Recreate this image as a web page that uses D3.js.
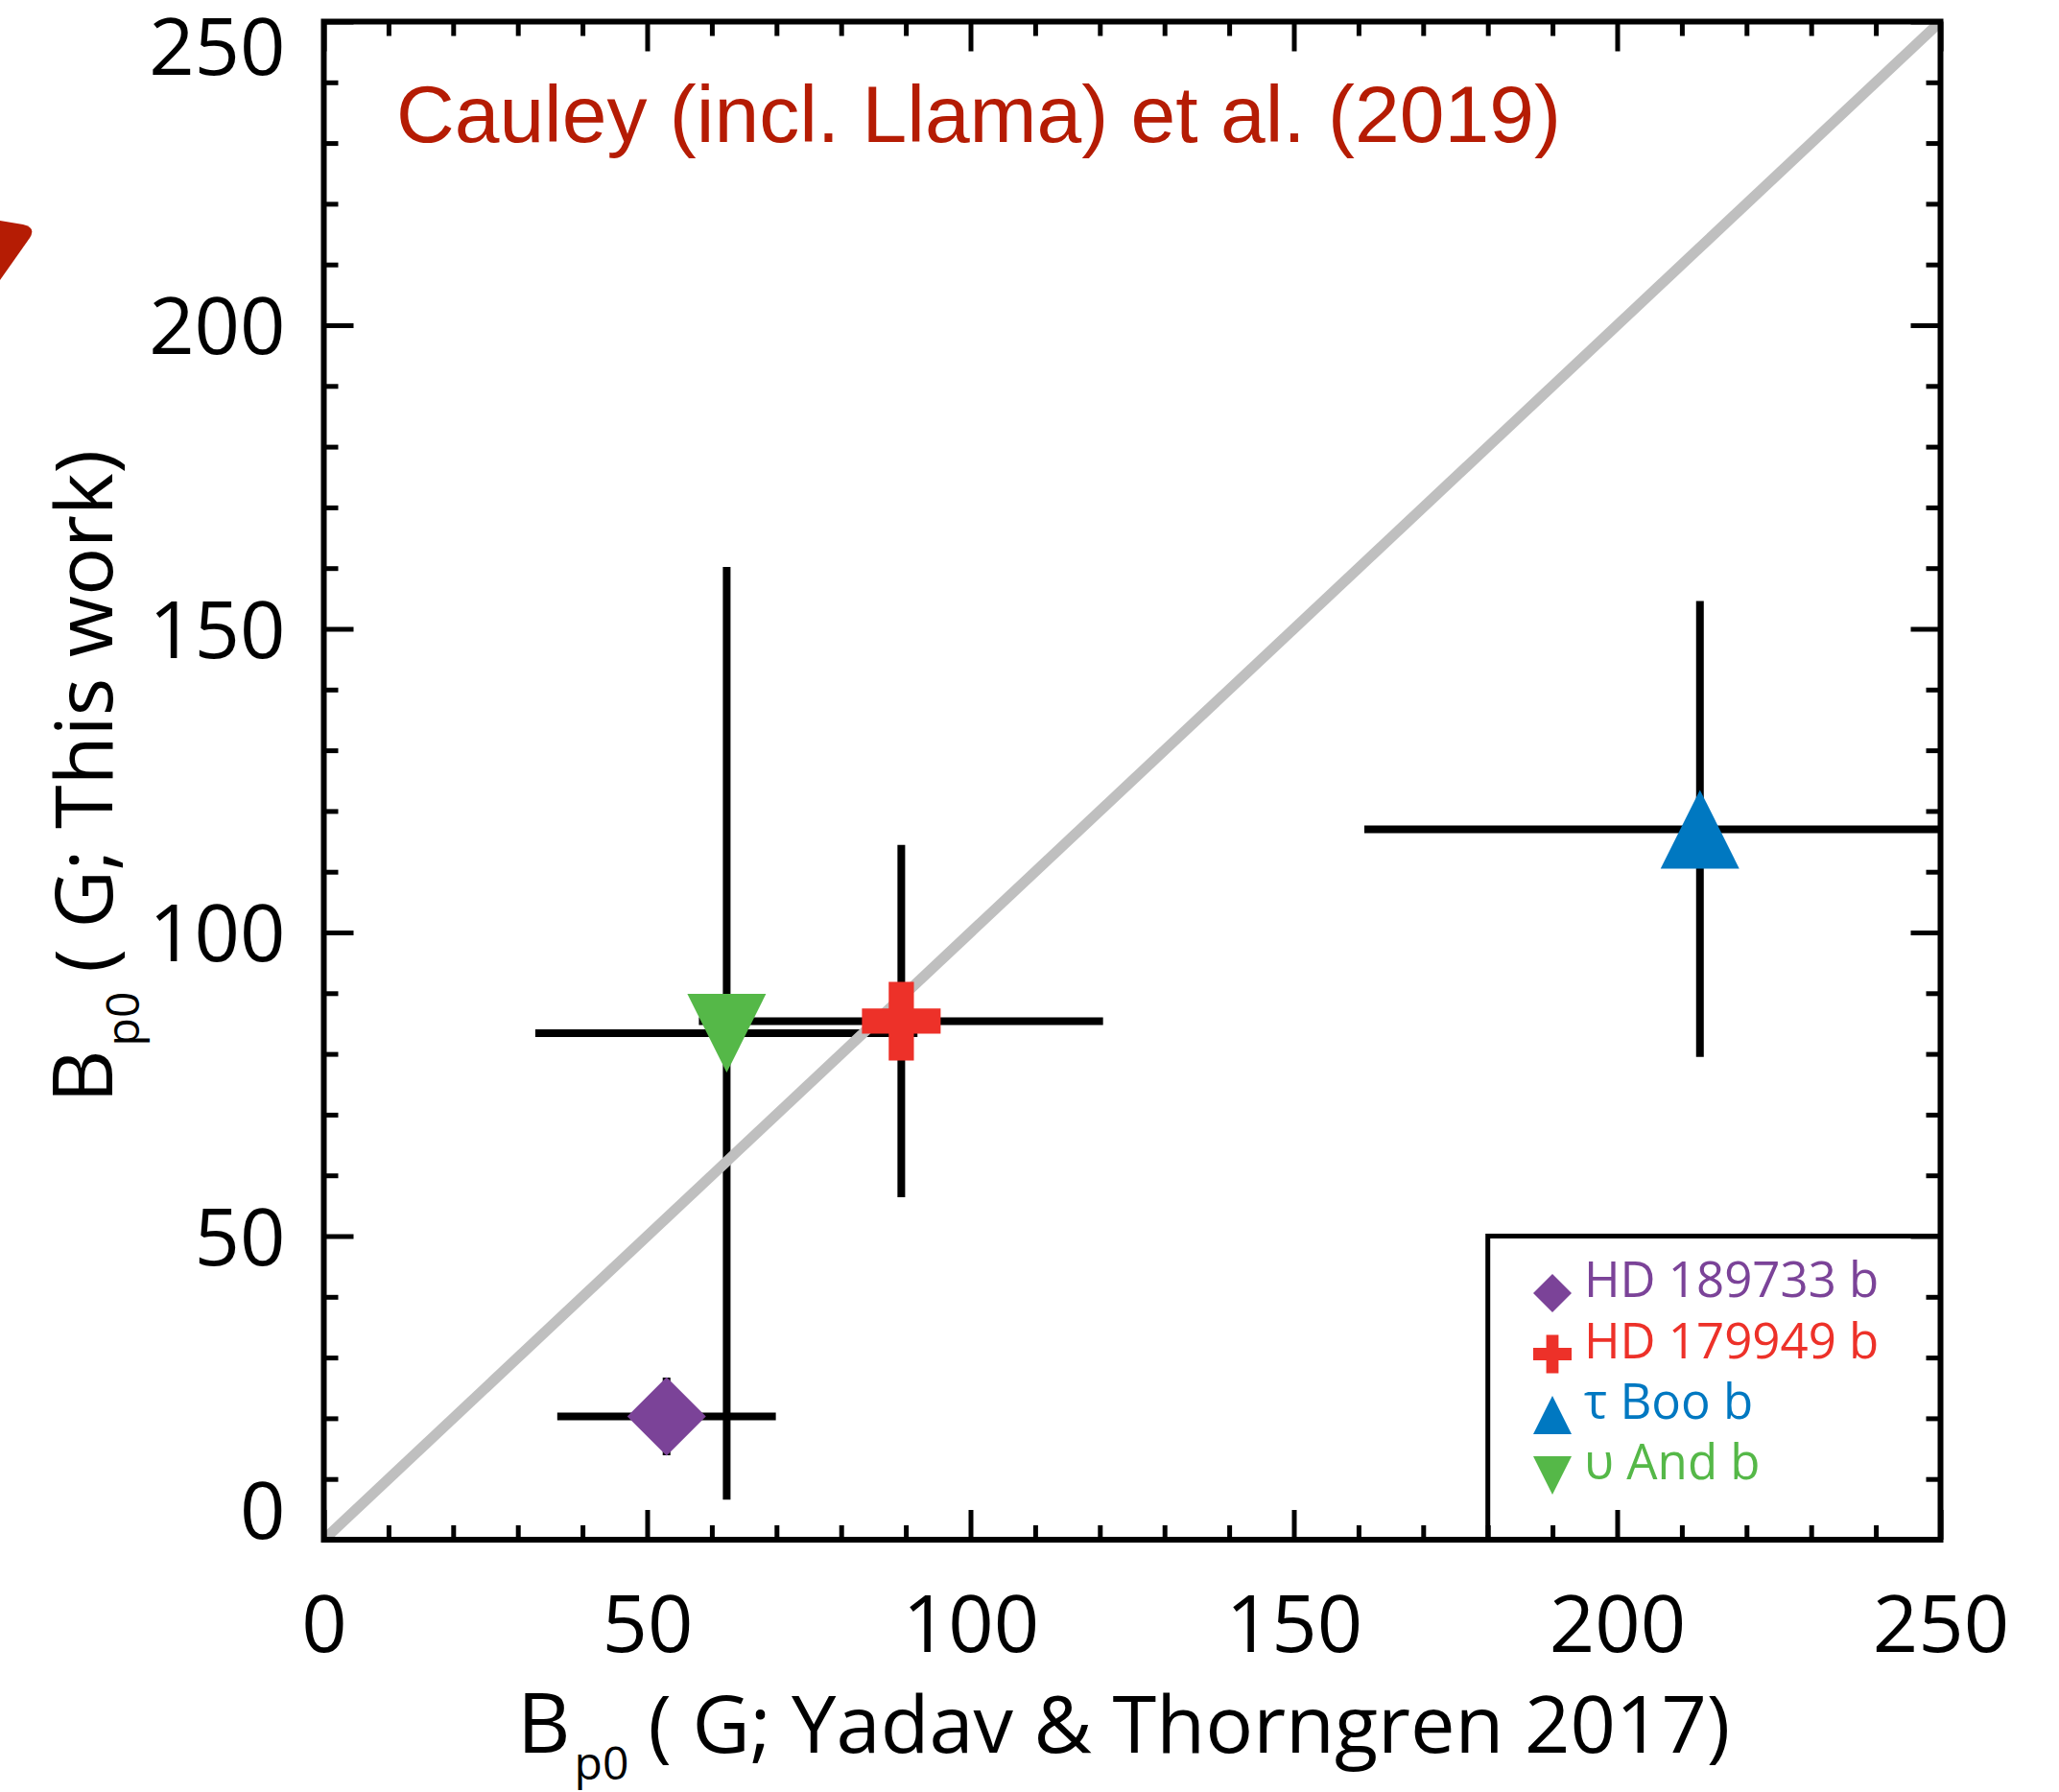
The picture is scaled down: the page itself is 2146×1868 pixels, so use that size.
<!DOCTYPE html>
<html>
<head>
<meta charset="utf-8">
<script src="https://cdn.jsdelivr.net/npm/d3@7"></script>
<style>
  html, body { margin: 0; padding: 0; background: #fff; }
  svg { display: block; }
</style>
</head>
<body>
<script>
// ---------------- data ----------------
const planetNames = ["HD 189733 b", "HD 179949 b", "τ Boo b", "υ And b"];
const markerShapes = ["diamond", "cross", "triangleUp", "triangleDown"];
const markerColors = ["#7b4398", "#ed3129", "#0078c1", "#55b848"];
const bYadav = [53.0, 89.3, 212.8, 62.3];          // x values
const bYadavLow = [36.1, 58.0, 160.9, 32.7];
const bYadavHigh = [69.9, 120.5, 264.7, 91.8];
const bThisWork = [20.3, 85.4, 117.0, 83.4];       // y values
const bThisWorkLow = [13.9, 56.4, 79.5, 6.6];
const bThisWorkHigh = [26.7, 114.4, 154.6, 160.2];
const majorTicks = [0, 50, 100, 150, 200, 250];
const minorTicks = d3.range(0, 251, 10);
const annotationText = "Cauley (incl. Llama) et al. (2019)";
const xTitleMain = "( G; Yadav & Thorngren 2017)";
const yTitleMain = "( G; This work)";
const legendExtent = { x0: 180, x1: 250, y0: 0, y1: 50 };

// ---------------- layout ----------------
const W = 2146, H = 1868;
const x = d3.scaleLinear().domain([0, 250]).range([337.5, 2022.5]);
const y = d3.scaleLinear().domain([0, 250]).range([1605, 22.5]);
const FONT = "'Open Sans', 'Noto Sans', sans-serif";
const LABEL_SIZE = 83;

const svg = d3.select("body").append("svg").attr("width", W).attr("height", H);

svg.append("defs").append("clipPath").attr("id", "plotclip")
  .append("rect").attr("x", x(0)).attr("y", y(250))
  .attr("width", x(250) - x(0)).attr("height", y(0) - y(250));

// decorative red corner shape (cut-off arrow head at left edge)
svg.append("path")
  .attr("d", "M0,230 L24,234 Q38,237 31,248 L0,292 Z")
  .attr("fill", "#b51c04");

// marker shape generator (relative to centre)
function shapePath(type, s) {
  const h = s / 2;
  if (type === "diamond") return `M0,${-h}L${h},0L0,${h}L${-h},0Z`;
  if (type === "triangleUp") return `M0,${-h}L${h},${h}L${-h},${h}Z`;
  if (type === "triangleDown") return `M0,${h}L${h},${-h}L${-h},${-h}Z`;
  if (type === "cross") {
    const t = s * 0.16;
    return `M${-t},${-h}H${t}V${-t}H${h}V${t}H${t}V${h}H${-t}V${t}H${-h}V${-t}H${-t}Z`;
  }
}

const plot = svg.append("g").attr("clip-path", "url(#plotclip)");
const idx = d3.range(planetNames.length);

// error bars
plot.selectAll("line.xerr").data(idx).join("line")
  .attr("class", "xerr")
  .attr("x1", i => x(bYadavLow[i])).attr("x2", i => x(bYadavHigh[i]))
  .attr("y1", i => y(bThisWork[i])).attr("y2", i => y(bThisWork[i]))
  .attr("stroke", "#000").attr("stroke-width", 8);
plot.selectAll("line.yerr").data(idx).join("line")
  .attr("class", "yerr")
  .attr("x1", i => x(bYadav[i])).attr("x2", i => x(bYadav[i]))
  .attr("y1", i => y(bThisWorkLow[i])).attr("y2", i => y(bThisWorkHigh[i]))
  .attr("stroke", "#000").attr("stroke-width", 8);

// one-to-one line
plot.append("line")
  .attr("x1", x(0)).attr("y1", y(0)).attr("x2", x(250)).attr("y2", y(250))
  .attr("stroke", "#bfbfbf").attr("stroke-width", 11);

// markers
plot.selectAll("path.marker").data(idx).join("path")
  .attr("class", "marker")
  .attr("transform", i => `translate(${x(bYadav[i])},${y(bThisWork[i])})`)
  .attr("d", i => shapePath(markerShapes[i], 82))
  .attr("fill", i => markerColors[i]);

// legend
const lg = svg.append("g");
lg.append("path")
  .attr("d", `M${x(legendExtent.x0)},${y(legendExtent.y0)}V${y(legendExtent.y1)}H${x(legendExtent.x1)}`)
  .attr("fill", "none").attr("stroke", "#000").attr("stroke-width", 5);
const legendRowY = [1348, 1411.5, 1475, 1538];
const legendMarkerX = 1618, legendTextX = 1651;
idx.forEach(i => {
  lg.append("path")
    .attr("transform", `translate(${legendMarkerX},${legendRowY[i]})`)
    .attr("d", shapePath(markerShapes[i], 40))
    .attr("fill", markerColors[i]);
  lg.append("text")
    .attr("x", legendTextX).attr("y", legendRowY[i] + 4)
    .attr("font-family", FONT).attr("font-size", 51)
    .attr("fill", markerColors[i])
    .text(planetNames[i]);
});

// axes with inward ticks on all four sides
function styleAxis(g) {
  g.select(".domain").remove();
  g.selectAll(".tick line").attr("stroke", "#000").attr("stroke-width", 5);
}
const minorOnly = minorTicks.filter(v => majorTicks.indexOf(v) < 0);

// bottom
svg.append("g").attr("transform", `translate(0,${y(0)})`)
  .call(d3.axisBottom(x).tickValues(minorOnly).tickSize(-15).tickFormat(""))
  .call(styleAxis);
const xb = svg.append("g").attr("transform", `translate(0,${y(0)})`)
  .call(d3.axisBottom(x).tickValues(majorTicks).tickSize(-31).tickFormat(d3.format("d")))
  .call(styleAxis);
xb.selectAll(".tick text")
  .attr("y", 87).attr("dy", "0.357em")
  .attr("font-family", FONT).attr("font-size", LABEL_SIZE).attr("fill", "#000");

// top
svg.append("g").attr("transform", `translate(0,${y(250)})`)
  .call(d3.axisTop(x).tickValues(minorOnly).tickSize(-15).tickFormat(""))
  .call(styleAxis);
svg.append("g").attr("transform", `translate(0,${y(250)})`)
  .call(d3.axisTop(x).tickValues(majorTicks).tickSize(-31).tickFormat(""))
  .call(styleAxis);

// left
svg.append("g").attr("transform", `translate(${x(0)},0)`)
  .call(d3.axisLeft(y).tickValues(minorOnly).tickSize(-15).tickFormat(""))
  .call(styleAxis);
const yl = svg.append("g").attr("transform", `translate(${x(0)},0)`)
  .call(d3.axisLeft(y).tickValues(majorTicks).tickSize(-31).tickFormat(d3.format("d")))
  .call(styleAxis);
yl.selectAll(".tick text")
  .attr("x", -40).attr("dy", "0.357em")
  .attr("y", d => d === 250 ? 25 : (d === 0 ? -31 : 0))
  .attr("text-anchor", "end")
  .attr("font-family", FONT).attr("font-size", LABEL_SIZE).attr("fill", "#000");

// right
svg.append("g").attr("transform", `translate(${x(250)},0)`)
  .call(d3.axisRight(y).tickValues(minorOnly).tickSize(-15).tickFormat(""))
  .call(styleAxis);
svg.append("g").attr("transform", `translate(${x(250)},0)`)
  .call(d3.axisRight(y).tickValues(majorTicks).tickSize(-31).tickFormat(""))
  .call(styleAxis);

// frame
svg.append("rect")
  .attr("x", x(0)).attr("y", y(250))
  .attr("width", x(250) - x(0)).attr("height", y(0) - y(250))
  .attr("fill", "none").attr("stroke", "#000").attr("stroke-width", 6);

// axis titles
function titleText(sel, main) {
  sel.attr("font-family", FONT).attr("font-size", LABEL_SIZE).attr("fill", "#000");
  sel.append("tspan").attr("font-size", 86).text("B");
  sel.append("tspan").attr("font-size", 48).attr("dy", 28).attr("dx", 4).text("p0");
  sel.append("tspan").attr("dy", -28).attr("dx", 20).text(main);
}
svg.append("text").attr("x", 539).attr("y", 1827).call(titleText, xTitleMain);
svg.append("text").attr("transform", "translate(117,1150) rotate(-90)").call(titleText, yTitleMain);

// annotation
svg.append("text")
  .attr("x", 413).attr("y", 148)
  .attr("font-family", "'Liberation Sans', Arial, sans-serif")
  .attr("font-size", 84).attr("fill", "#b51c04")
  .text(annotationText);
</script>
</body>
</html>
